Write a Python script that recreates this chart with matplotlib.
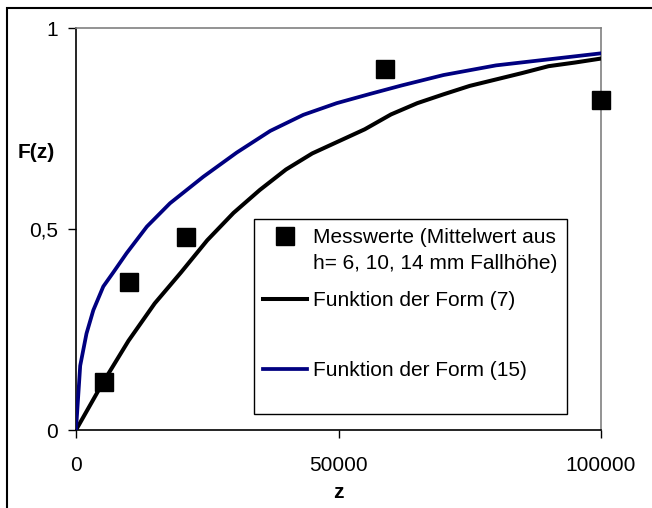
import matplotlib
matplotlib.use("Agg")
import matplotlib.pyplot as plt
from matplotlib.patches import Rectangle
from matplotlib.offsetbox import DrawingArea

plt.rcParams['font.family'] = ['Liberation Sans', 'DejaVu Sans']

# Measured values (Messwerte)
mess_z = [5400, 10000, 21000, 58800, 100000]
mess_F = [0.120, 0.367, 0.479, 0.898, 0.820]

# Funktion der Form (7)
f7_z = [0, 5000, 10000, 15000, 20000, 25000, 30000, 35000, 40000, 45000, 50000,
        55000, 60000, 65000, 70000, 75000, 80000, 85000, 90000, 95000, 100000]
f7_F = [0.0, 0.115, 0.222, 0.315, 0.392, 0.472, 0.540, 0.597, 0.648, 0.688, 0.718,
        0.748, 0.785, 0.813, 0.835, 0.856, 0.872, 0.888, 0.905, 0.914, 0.924]

# Funktion der Form (15)
f15_z = [0, 300, 800, 2000, 3300, 5200, 7100, 9650, 13500, 17900, 24250, 30600,
         37000, 43300, 49650, 56000, 62000, 70000, 80000, 90000, 100000]
f15_F = [0.0, 0.060, 0.160, 0.240, 0.298, 0.357, 0.392, 0.440, 0.506, 0.564, 0.630, 0.690,
         0.744, 0.784, 0.813, 0.836, 0.857, 0.883, 0.907, 0.922, 0.937]

x_ticks = [0, 50000, 100000]
x_ticklabels = ['0', '50000', '100000']
y_ticks = [0, 0.5, 1]
y_ticklabels = ['0', '0,5', '1']

labels = ['Messwerte (Mittelwert aus\nh= 6, 10, 14 mm Fallhöhe)',
          'Funktion der Form (7)',
          'Funktion der Form (15)']

W, H = 652, 508
fig = plt.figure(figsize=(W / 100, H / 100), dpi=100)
ax = fig.add_axes([76 / W, 1 - 430 / H, (601 - 76) / W, (430 - 28) / H])

fs = 15

ax.plot(f7_z, f7_F, color='black', lw=2.9, label=labels[1], zorder=3)
ax.plot(f15_z, f15_F, color='#000080', lw=2.7, label=labels[2], zorder=3)
ax.plot(mess_z, mess_F, linestyle='none', marker='s', markersize=13.5,
        color='black', label=labels[0], zorder=4, clip_on=False)

ax.set_xlim(0, 100000)
ax.set_ylim(0, 1)
ax.set_xticks(x_ticks)
ax.set_xticklabels(x_ticklabels)
ax.set_yticks(y_ticks)
ax.set_yticklabels(y_ticklabels)
ax.tick_params(axis='both', direction='out', length=6, width=1, labelsize=fs)
ax.tick_params(axis='y', pad=7)
ax.tick_params(axis='x', pad=13)

for s in ['top', 'right']:
    ax.spines[s].set_color('#808080')
    ax.spines[s].set_linewidth(1.2)
for s in ['left', 'bottom']:
    ax.spines[s].set_color('black')
    ax.spines[s].set_linewidth(1.2)

ax.set_ylabel('F(z)', rotation=0, fontweight='bold', fontsize=fs, ha='center', va='center')
ax.yaxis.set_label_coords((36 - 76) / 525, (430 - 152) / 402)
ax.set_xlabel('z', fontweight='bold', fontsize=fs, ha='center', va='center')
ax.xaxis.set_label_coords((338 - 76) / 525, (430 - 492) / 402)

handles, labs = ax.get_legend_handles_labels()
order = [2, 0, 1]
leg = ax.legend([handles[i] for i in order], [labs[i] for i in order],
                loc='upper left', bbox_to_anchor=(254 / W, 1 - 219 / H),
                bbox_transform=fig.transFigure, fontsize=fs, frameon=True,
                fancybox=False, edgecolor='black', framealpha=1,
                handlelength=2.1, handletextpad=0.3, borderpad=0.45,
                labelspacing=0.85, borderaxespad=0)
leg.get_frame().set_linewidth(1.0)
leg.get_texts()[0].set_linespacing(1.45)

# uneven vertical spacing of legend entries, as in the reference
col = leg._legend_handle_box.get_children()[0]
items = col.get_children()
items[0].align = 'top'
items.insert(2, DrawingArea(0, 11.5))
items.append(DrawingArea(0, 5))

# outer chart frame (only left and top edges visible in reference)
fig.patches.append(Rectangle((7 / W, -0.1), 1.2, 1.1 - 8 / H,
                             transform=fig.transFigure, fill=False,
                             edgecolor='black', linewidth=1.5))

fig.savefig('out.png', dpi=100)
